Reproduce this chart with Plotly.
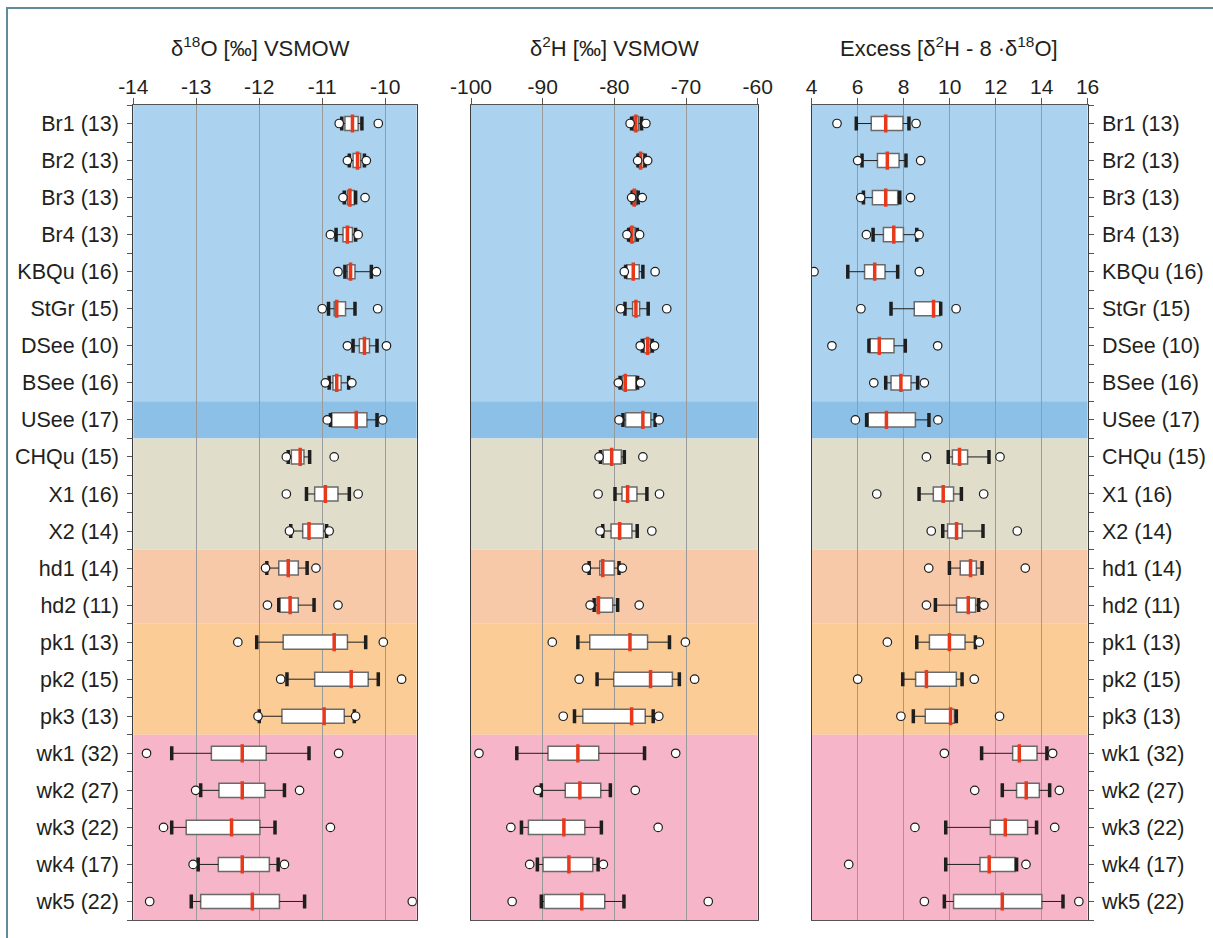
import plotly.graph_objects as go

# Sampling sites with number of samples
stations = ["Br1 (13)", "Br2 (13)", "Br3 (13)", "Br4 (13)", "KBQu (16)", "StGr (15)",
            "DSee (10)", "BSee (16)", "USee (17)", "CHQu (15)", "X1 (16)", "X2 (14)",
            "hd1 (14)", "hd2 (11)", "pk1 (13)", "pk2 (15)", "pk3 (13)",
            "wk1 (32)", "wk2 (27)", "wk3 (22)", "wk4 (17)", "wk5 (22)"]

# delta 18O [permil VSMOW]: outliers, whisker ends, quartiles, median
o18_out_lo = [-10.73, -10.60, -10.67, -10.87, -10.75, -11.00, -10.60, -10.95, -10.92, -11.57, -11.57,
              -11.52, -11.90, -11.87, -12.34, -11.66, -12.02, -13.79, -13.01, -13.52, -13.05, -13.74]
o18_whisk_lo = [-10.69, -10.57, -10.65, -10.78, -10.64, -10.90, -10.51, -10.89, -10.87, -11.54, -11.25,
                -11.50, -11.88, -11.69, -12.04, -11.56, -12.00, -13.39, -12.93, -13.39, -12.97, -13.08]
o18_q1 = [-10.64, -10.51, -10.60, -10.67, -10.60, -10.81, -10.41, -10.83, -10.85, -11.49, -11.12,
          -11.31, -11.69, -11.68, -11.62, -11.12, -11.64, -12.76, -12.64, -13.16, -12.65, -12.93]
o18_median = [-10.52, -10.44, -10.56, -10.60, -10.55, -10.77, -10.33, -10.77, -10.46, -11.35, -10.95,
              -11.21, -11.54, -11.51, -10.81, -10.54, -10.97, -12.27, -12.27, -12.44, -12.27, -12.11]
o18_q3 = [-10.43, -10.39, -10.49, -10.52, -10.48, -10.63, -10.25, -10.70, -10.29, -11.29, -10.75,
          -10.98, -11.38, -11.38, -10.60, -10.27, -10.65, -11.89, -11.91, -11.99, -11.84, -11.68]
o18_whisk_hi = [-10.37, -10.33, -10.47, -10.47, -10.22, -10.48, -10.13, -10.58, -10.13, -11.20, -10.57,
                -10.93, -11.24, -11.13, -10.31, -10.11, -10.49, -11.21, -11.60, -11.75, -11.70, -11.28]
o18_out_hi = [-10.11, -10.30, -10.32, -10.43, -10.14, -10.12, -9.98, -10.53, -10.04, -10.81, -10.43,
              -10.89, -11.10, -10.75, -10.03, -9.74, -10.47, -10.74, -11.36, -10.87, -11.60, -9.57]

# delta 2H [permil VSMOW]
h2_out_lo = [-77.8, -76.75, -77.59, -78.24, -78.61, -79.12, -76.39, -79.44, -79.35, -82.13, -82.27,
             -81.99, -83.89, -83.38, -88.66, -84.91, -87.13, -98.89, -90.69, -94.44, -91.81, -94.26]
h2_whisk_lo = [-77.6, -76.7, -77.52, -78.0, -78.43, -78.52, -76.1, -79.2, -78.8, -81.94, -79.91,
               -81.62, -83.52, -82.82, -85.09, -82.41, -85.56, -93.61, -90.19, -92.96, -90.74, -90.19]
h2_q1 = [-77.36, -76.65, -77.5, -77.87, -78.29, -77.45, -75.83, -78.84, -78.43, -81.57, -78.94,
         -80.46, -82.04, -82.41, -83.43, -80.09, -84.40, -89.26, -86.85, -91.99, -89.95, -89.81]
h2_median = [-77.0, -76.34, -77.22, -77.55, -77.36, -76.99, -75.37, -78.47, -76.02, -80.37, -78.15,
             -79.26, -81.62, -82.22, -77.82, -74.95, -77.59, -85.09, -84.81, -87.04, -86.34, -84.54]
h2_q3 = [-76.6, -75.93, -76.85, -77.13, -76.53, -76.48, -75.0, -76.99, -74.91, -79.03, -76.85,
         -77.55, -80.0, -80.23, -75.37, -71.90, -75.69, -82.18, -81.90, -84.12, -83.01, -81.34]
h2_whisk_hi = [-76.2, -75.7, -76.67, -76.8, -76.02, -75.28, -74.7, -76.76, -74.31, -78.61, -75.46,
               -76.81, -79.35, -79.54, -72.31, -70.93, -74.58, -75.79, -80.56, -81.81, -82.27, -78.66]
h2_out_hi = [-75.6, -75.35, -76.11, -76.48, -74.31, -72.69, -74.40, -76.34, -73.75, -76.02, -73.70,
             -74.77, -78.89, -76.53, -70.09, -68.80, -73.80, -71.44, -77.08, -73.89, -81.53, -66.90]

# Deuterium excess [d2H - 8 * d18O]
ex_out_lo = [5.10, 6.00, 6.13, 6.38, 4.10, 6.14, 4.88, 6.70, 5.90, 8.99, 6.83,
             9.20, 9.09, 8.99, 7.29, 6.00, 7.88, 9.77, 11.09, 8.49, 5.61, 8.90]
ex_whisk_lo = [5.94, 6.19, 6.25, 6.67, 5.57, 7.45, 6.49, 7.22, 6.39, 9.94, 8.67,
               9.70, 9.99, 9.38, 8.57, 7.96, 8.42, 11.39, 12.29, 9.83, 9.83, 9.77]
ex_q1 = [6.59, 6.86, 6.64, 7.12, 6.30, 8.46, 6.51, 7.45, 6.46, 10.12, 9.29,
         9.91, 10.46, 10.30, 9.12, 8.52, 8.94, 12.74, 12.91, 11.77, 11.32, 10.17]
ex_median = [7.22, 7.29, 7.22, 7.57, 6.74, 9.30, 6.94, 7.88, 7.25, 10.43, 9.72,
             10.30, 10.91, 10.81, 9.99, 8.99, 10.04, 13.03, 13.33, 12.42, 11.72, 12.29]
ex_q3 = [7.97, 7.80, 7.74, 7.99, 7.19, 9.58, 7.58, 8.32, 8.51, 10.78, 10.17,
         10.55, 11.16, 11.13, 10.67, 10.29, 10.20, 13.80, 13.90, 13.39, 12.84, 14.01]
ex_whisk_hi = [8.23, 8.10, 7.83, 8.57, 7.74, 9.61, 8.07, 8.61, 9.10, 11.71, 10.51,
               11.45, 11.41, 11.26, 11.12, 10.54, 10.29, 14.23, 14.35, 13.78, 12.91, 14.93]
ex_out_hi = [8.54, 8.74, 8.30, 8.67, 8.68, 10.28, 9.48, 8.90, 9.49, 12.19, 11.48,
             12.94, 13.29, 11.49, 11.29, 11.07, 12.17, 14.48, 14.77, 14.57, 13.32, 15.62]

# Axis ticks
o18_ticks = [-14, -13, -12, -11, -10]
o18_ticktext = ["-14", "-13", "-12", "-11", "-10"]
h2_ticks = [-100, -90, -80, -70, -60]
h2_ticktext = ["-100", "-90", "-80", "-70", "-60"]
ex_ticks = [4, 6, 8, 10, 12, 14, 16]
ex_ticktext = ["4", "6", "8", "10", "12", "14", "16"]

# Site groups shaded behind the boxes: (first row, last row, colour)
group_first = [0, 8, 9, 12, 14, 17]
group_last = [7, 8, 11, 13, 16, 21]
group_colors = ["#abd2ee", "#8cc0e6", "#e0ddcb", "#f8c9a8", "#fbcc95", "#f6b5c8"]

FONT = "Liberation Sans, Arial, sans-serif"
TEXT = "#231f20"
W, H = 1213, 938
rows = list(range(len(stations)))

fig = go.Figure()


def add_panel(n, out_lo, wlo, q1, med, q3, whi, out_hi):
    xa = "x" if n == 1 else f"x{n}"
    ya = "y" if n == 1 else f"y{n}"
    # interquartile box
    fig.add_trace(go.Bar(
        y=rows, x=[b - a for a, b in zip(q1, q3)], base=q1, orientation="h",
        width=0.38, marker=dict(color="white", line=dict(color="#6a6a6a", width=1.5)),
        xaxis=xa, yaxis=ya, hoverinfo="skip"))
    # whiskers
    wx, wy = [], []
    for r, a, b, c, d in zip(rows, wlo, q1, q3, whi):
        wx += [a, b, None, c, d, None]
        wy += [r, r, None, r, r, None]
    fig.add_trace(go.Scatter(x=wx, y=wy, mode="lines", line=dict(color="#1e1e1e", width=1),
                             xaxis=xa, yaxis=ya, hoverinfo="skip"))
    # whisker caps
    fig.add_trace(go.Scatter(
        x=wlo + whi, y=rows + rows, mode="markers",
        marker=dict(symbol="line-ns", size=10, line=dict(color="#1e1e1e", width=3.5)),
        xaxis=xa, yaxis=ya, hoverinfo="skip"))
    # median
    fig.add_trace(go.Scatter(
        x=med, y=rows, mode="markers",
        marker=dict(symbol="line-ns", size=13, line=dict(color="#e8391d", width=3.5)),
        xaxis=xa, yaxis=ya, hoverinfo="skip"))
    # outliers
    fig.add_trace(go.Scatter(
        x=out_lo + out_hi, y=rows + rows, mode="markers",
        marker=dict(symbol="circle", size=8.5, color="white",
                    line=dict(color="#1e1e1e", width=1.2)),
        xaxis=xa, yaxis=ya, hoverinfo="skip"))
    # group shading
    for f, l, c in zip(group_first, group_last, group_colors):
        fig.add_shape(type="rect", xref=f"{xa} domain", yref=ya, x0=0, x1=1,
                      y0=f - 0.5, y1=l + 0.5, fillcolor=c, line=dict(width=0), layer="below")


add_panel(1, o18_out_lo, o18_whisk_lo, o18_q1, o18_median, o18_q3, o18_whisk_hi, o18_out_hi)
add_panel(2, h2_out_lo, h2_whisk_lo, h2_q1, h2_median, h2_q3, h2_whisk_hi, h2_out_hi)
add_panel(3, ex_out_lo, ex_whisk_lo, ex_q1, ex_median, ex_q3, ex_whisk_hi, ex_out_hi)

y_top, y_bot = 105, 920
ydom = [1 - y_bot / H, 1 - y_top / H]
xdoms = [[133.3 / W, 416.7 / W], [471 / W, 757.7 / W], [811.7 / W, 1087.6 / W]]
xranges = [[-14, -9.5], [-100, -60], [4, 16]]
xticks = [(o18_ticks, o18_ticktext), (h2_ticks, h2_ticktext), (ex_ticks, ex_ticktext)]

for i in range(3):
    sfx = "" if i == 0 else str(i + 1)
    fig.update_layout(**{
        f"xaxis{sfx}": dict(
            domain=xdoms[i], anchor=f"y{sfx}", side="top", range=xranges[i],
            tickmode="array", tickvals=xticks[i][0], ticktext=xticks[i][1],
            showgrid=True, gridcolor="#9a9a9a", gridwidth=1, zeroline=False,
            showline=True, linecolor="#555555", linewidth=1.2, mirror=True,
            ticks="outside", ticklen=6, tickcolor="#555555", automargin=False,
            ticklabelstandoff=-4,
            tickfont=dict(family=FONT, size=21, color=TEXT)),
        f"yaxis{sfx}": dict(
            domain=ydom, anchor=f"x{sfx}", range=[len(stations) - 0.5, -0.5],
            showgrid=False, zeroline=False, showline=True, linecolor="#3c3c3c",
            linewidth=1.2, mirror=True, automargin=False),
    })

tick_style = dict(tickmode="array", tickvals=rows, ticktext=stations, ticks="outside",
                  ticklen=5, tickcolor="#555555", ticklabelstandoff=4,
                  tickfont=dict(family=FONT, size=21.5, color=TEXT),
                  minor=dict(tickmode="array", tickvals=[r - 0.5 for r in rows] + [len(rows) - 0.5],
                             ticks="outside", ticklen=5, tickcolor="#555555"))
fig.update_layout(yaxis=dict(**tick_style, side="left"),
                  yaxis2=dict(showticklabels=False, ticks=""),
                  yaxis3=dict(**tick_style, side="right"))

titles = ["δ<sup>18</sup>O [‰] VSMOW", "δ<sup>2</sup>H [‰] VSMOW",
          "Excess [δ<sup>2</sup>H - 8 ·δ<sup>18</sup>O]"]
title_x = [260, 614, 949]
for t, x in zip(titles, title_x):
    fig.add_annotation(text=t, x=x / W, y=1 - 47 / H, xref="paper", yref="paper",
                       showarrow=False, xanchor="center", yanchor="middle",
                       font=dict(family=FONT, size=22, color=TEXT))

# outer frame
fig.add_shape(type="rect", xref="paper", yref="paper", x0=7 / W, x1=1.05, y0=-0.05,
              y1=1 - 8 / H, line=dict(color="#5e8c99", width=2), fillcolor="rgba(0,0,0,0)")

fig.update_layout(width=W, height=H, autosize=False, showlegend=False, barmode="overlay",
                  margin=dict(l=0, r=0, t=0, b=0, autoexpand=False), paper_bgcolor="white",
                  plot_bgcolor="white")

fig.write_html("out.html")
